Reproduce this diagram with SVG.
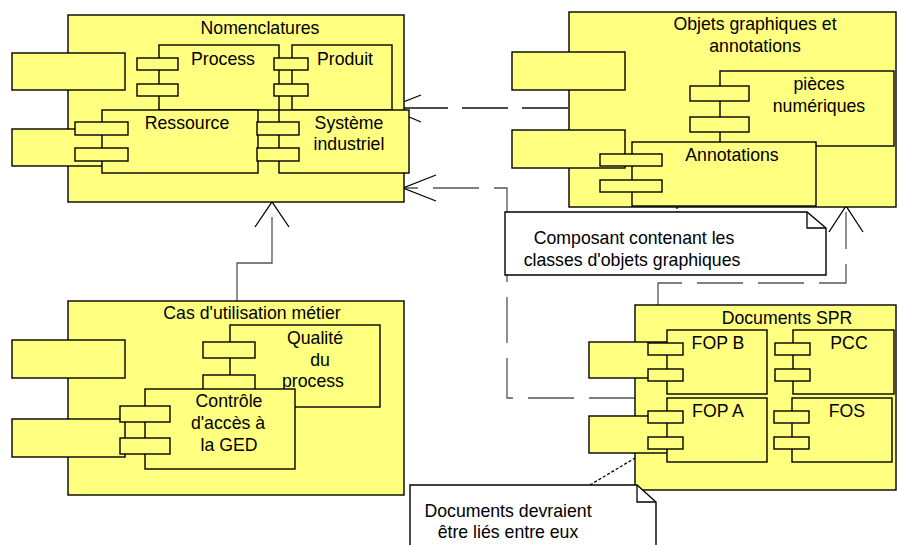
<svg xmlns="http://www.w3.org/2000/svg" width="897" height="545" viewBox="0 0 897 545">
<defs>
<style>
.b{fill:#FFFF80;stroke:#000;stroke-width:1.4}
.n{fill:#fff;stroke:#000;stroke-width:1.4}
.t{font-family:"Liberation Sans",Arial,sans-serif;font-size:17.7px;fill:#000;text-anchor:middle}
.c{fill:none;stroke:#555;stroke-width:1.3}
.a{fill:none;stroke:#000;stroke-width:1.3}
</style>
</defs>
<rect width="897" height="545" fill="#fff"/>

<g id="connectors">
<path class="c" d="M568,108 H390" style="stroke:#111" stroke-dasharray="46 14"/>
<path class="a" d="M421,95 L388,108 L421,122"/>
<path class="c" d="M635,398 H507 V188 H404" stroke-dasharray="46 15"/>
<path class="a" d="M436,175 L403,188 L436,201"/>
<path class="c" d="M658,305 V283 H846 V212" stroke-dasharray="46 15"/>
<path class="a" d="M829,232 L846,206 L863,232"/>
<path class="c" d="M237,301 V263 H272 V217"/>
<path class="a" d="M255,227 L272,202 L289,227"/>
<path class="a" d="M677,206 V212" stroke-dasharray="3 2"/>
<path class="a" d="M590,485 L635,458" stroke-dasharray="3 2"/>
</g>

<g id="nomenclatures">
<rect class="b" x="68" y="15" width="336" height="187"/>
<rect class="b" x="12" y="53" width="113" height="37"/>
<rect class="b" x="12" y="129" width="113" height="37"/>
<text class="t" x="260" y="34">Nomenclatures</text>
<g id="process">
<rect class="b" x="159" y="45" width="120" height="65"/>
<rect class="b" x="137" y="58" width="41" height="12"/>
<rect class="b" x="137" y="84" width="41" height="12"/>
<text class="t" x="223" y="65">Process</text>
</g>
<g id="produit">
<rect class="b" x="292" y="45" width="100" height="65"/>
<rect class="b" x="274" y="58" width="34" height="12"/>
<rect class="b" x="274" y="84" width="34" height="12"/>
<text class="t" x="345" y="65">Produit</text>
</g>
<g id="ressource">
<rect class="b" x="102" y="110" width="156" height="63"/>
<rect class="b" x="75" y="122" width="53" height="13"/>
<rect class="b" x="75" y="148" width="53" height="13"/>
<text class="t" x="187" y="129">Ressource</text>
</g>
<g id="systeme">
<rect class="b" x="279" y="110" width="130" height="63"/>
<rect class="b" x="257" y="122" width="42" height="13"/>
<rect class="b" x="257" y="148" width="42" height="13"/>
<text class="t" x="349" y="129">Système</text>
<text class="t" x="349" y="150">industriel</text>
</g>
</g>

<g id="objets">
<rect class="b" x="569" y="12" width="327" height="195"/>
<rect class="b" x="512" y="52" width="113" height="38"/>
<rect class="b" x="512" y="130" width="113" height="38"/>
<text class="t" x="755" y="30">Objets graphiques et</text>
<text class="t" x="755" y="52">annotations</text>
<g id="pieces">
<rect class="b" x="720" y="71" width="174" height="75"/>
<rect class="b" x="690" y="86" width="59" height="15"/>
<rect class="b" x="690" y="117" width="59" height="15"/>
<text class="t" x="819" y="90">pièces</text>
<text class="t" x="819" y="112">numériques</text>
</g>
<g id="annotations">
<rect class="b" x="632" y="142" width="184" height="64"/>
<rect class="b" x="600" y="154" width="62" height="12"/>
<rect class="b" x="600" y="180" width="62" height="12"/>
<text class="t" x="732" y="161">Annotations</text>
</g>
</g>

<g id="note1">
<path class="n" d="M505,212 H807 L826,228 V275 H505 Z"/>
<path class="a" d="M807,212 V228 H826"/>
<text class="t" x="634" y="244">Composant contenant les</text>
<text class="t" x="632" y="266">classes d'objets graphiques</text>
</g>

<g id="cas">
<rect class="b" x="68" y="301" width="336" height="194"/>
<rect class="b" x="12" y="340" width="113" height="38"/>
<rect class="b" x="12" y="419" width="113" height="38"/>
<text class="t" x="252" y="319">Cas d'utilisation métier</text>
<g id="qualite">
<rect class="b" x="230" y="325" width="150" height="82"/>
<rect class="b" x="203" y="342" width="52" height="16"/>
<rect class="b" x="203" y="375" width="52" height="16"/>
<text class="t" x="315" y="344">Qualité</text>
<text class="t" x="320" y="366">du</text>
<text class="t" x="313" y="387">process</text>
</g>
<g id="controle">
<rect class="b" x="145" y="389" width="150" height="80"/>
<rect class="b" x="120" y="406" width="50" height="16"/>
<rect class="b" x="120" y="438" width="50" height="16"/>
<text class="t" x="229" y="407">Contrôle</text>
<text class="t" x="228" y="429">d'accès à</text>
<text class="t" x="229" y="451">la GED</text>
</g>
</g>

<g id="documents">
<rect class="b" x="635" y="305" width="261" height="185"/>
<rect class="b" x="589" y="342" width="113" height="36"/>
<rect class="b" x="589" y="416" width="113" height="37"/>
<text class="t" x="787" y="324">Documents SPR</text>
<g id="fopb">
<rect class="b" x="667" y="330" width="100" height="64"/>
<rect class="b" x="648" y="343" width="35" height="12"/>
<rect class="b" x="648" y="369" width="35" height="12"/>
<text class="t" x="718" y="349">FOP B</text>
</g>
<g id="pcc">
<rect class="b" x="793" y="330" width="101" height="64"/>
<rect class="b" x="775" y="343" width="35" height="12"/>
<rect class="b" x="775" y="369" width="35" height="12"/>
<text class="t" x="849" y="349">PCC</text>
</g>
<g id="fopa">
<rect class="b" x="667" y="398" width="100" height="64"/>
<rect class="b" x="648" y="411" width="35" height="12"/>
<rect class="b" x="648" y="437" width="35" height="12"/>
<text class="t" x="718" y="417">FOP A</text>
</g>
<g id="fos">
<rect class="b" x="792" y="398" width="100" height="64"/>
<rect class="b" x="774" y="411" width="35" height="12"/>
<rect class="b" x="774" y="437" width="35" height="12"/>
<text class="t" x="847" y="417">FOS</text>
</g>
</g>

<g id="note2">
<path class="n" d="M410,485 H637 L656,502 V560 H410 Z"/>
<path class="a" d="M637,485 V502 H656"/>
<text class="t" x="508" y="517">Documents devraient</text>
<text class="t" x="508" y="538">être liés entre eux</text>
</g>
</svg>
